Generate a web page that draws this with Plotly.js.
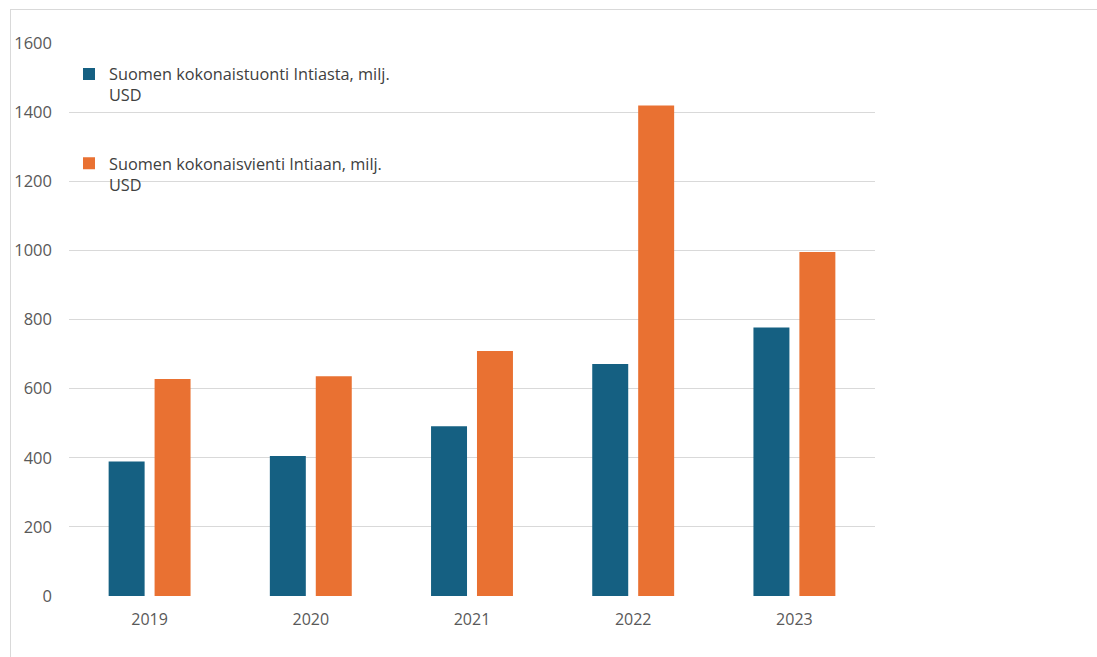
<!DOCTYPE html>
<html>
<head>
<meta charset="utf-8">
<script src="https://cdn.plot.ly/plotly-3.0.1.min.js"></script>
<style>
  html, body { margin: 0; padding: 0; background: #ffffff; }
  #wrap { position: relative; width: 1097px; height: 657px; overflow: hidden; }
  #chart { position: absolute; left: 0; top: 0; width: 1097px; height: 657px; }
  #frame { position: absolute; left: 10px; top: 9px; width: 1100px; height: 660px;
           border-top: 1px solid #d9d9d9; border-left: 1px solid #d9d9d9; pointer-events: none; }
</style>
</head>
<body>
<div id="wrap">
  <div id="chart"></div>
  <div id="frame"></div>
</div>
<script>
const years = ['2019', '2020', '2021', '2022', '2023'];
const importsFromIndia = [389, 405, 491, 671, 777];
const exportsToIndia = [628, 636, 709, 1419, 995];
const seriesNames = [
  'Suomen kokonaistuonti Intiasta, milj.<br>USD',
  'Suomen kokonaisvienti Intiaan, milj.<br>USD'
];
const yTicks = [0, 200, 400, 600, 800, 1000, 1200, 1400, 1600];

const fontFam = 'Open Sans, Roboto, sans-serif';

const traces = [
  {
    type: 'bar', x: years, y: importsFromIndia, name: seriesNames[0],
    marker: { color: '#156082' }, legendgroup: 'a'
  },
  {
    type: 'bar', x: years, y: exportsToIndia, name: seriesNames[1],
    marker: { color: '#E97132' }, legendgroup: 'b'
  }
];

const layout = {
  width: 1097, height: 657,
  margin: { l: 69, r: 222, t: 43, b: 61 },
  paper_bgcolor: '#ffffff', plot_bgcolor: '#ffffff',
  font: { family: fontFam, color: '#595959', size: 16 },
  barmode: 'group', bargap: 0.43, bargroupgap: 0.217,
  showlegend: true,
  legend: {
    x: 0.0, y: 0.975, xanchor: 'left', yanchor: 'top',
    bgcolor: 'rgba(0,0,0,0)', valign: 'top',
    traceorder: 'grouped', tracegroupgap: 44,
    font: { family: fontFam, size: 16.3, color: '#404040' },
    itemwidth: 30
  },
  xaxis: {
    type: 'category', showgrid: false, zeroline: false, showline: false,
    ticks: '', tickfont: { size: 16, color: '#595959' }, ticklabelstandoff: 12
  },
  yaxis: {
    range: [0, 1600], tickvals: yTicks, ticktext: yTicks.map(String),
    showgrid: true, gridcolor: '#d9d9d9', gridwidth: 1,
    zeroline: false, showline: false, ticks: '',
    tickfont: { size: 16.5, color: '#595959' }, ticklabelstandoff: 16
  }
};

Plotly.newPlot('chart', traces, layout, { displayModeBar: false, staticPlot: true });
</script>
</body>
</html>
